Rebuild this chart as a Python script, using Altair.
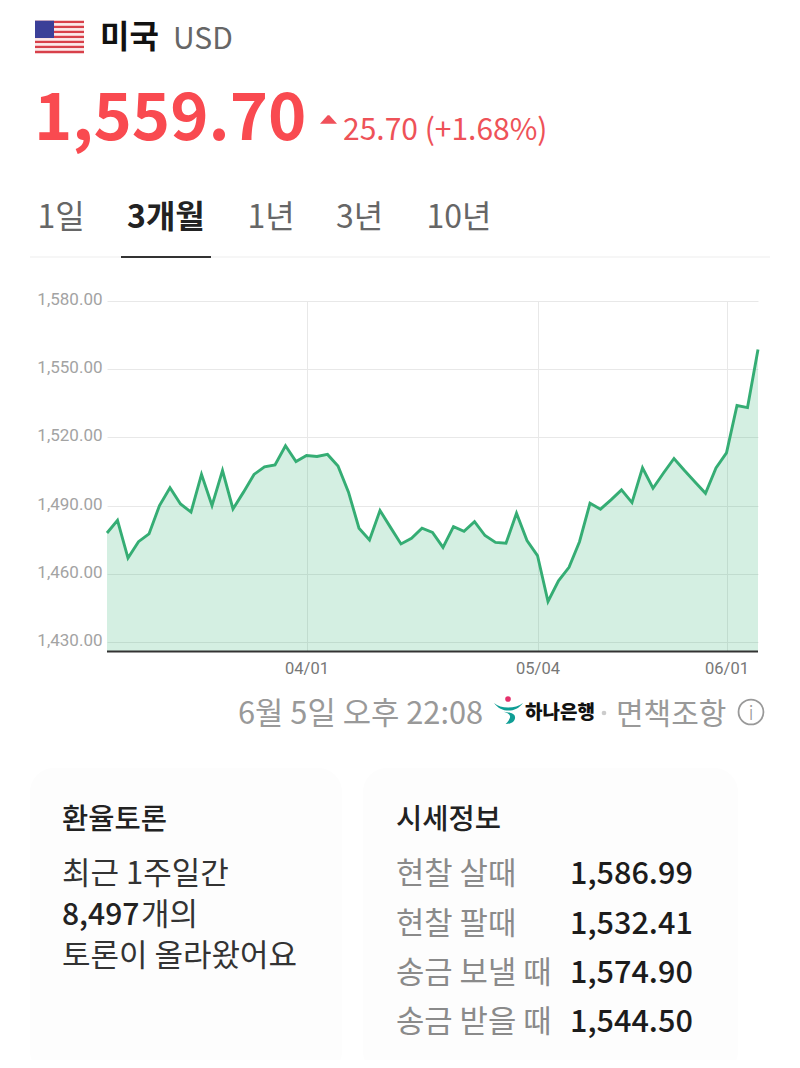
import altair as alt
import pandas as pd

dates = ["03/05","03/06","03/09","03/10","03/11","03/12","03/13","03/16","03/17","03/18","03/19","03/20","03/23","03/24","03/25","03/26","03/27","03/30","03/31",
         "04/01","04/02","04/03","04/06","04/07","04/08","04/09","04/10","04/13","04/14","04/15","04/16","04/17","04/20","04/21","04/22","04/23","04/24","04/27","04/28","04/29","04/30",
         "05/04","05/06","05/07","05/08","05/11","05/12","05/13","05/14","05/15","05/18","05/19","05/20","05/21","05/22","05/26","05/27","05/28","05/29",
         "06/01","06/02","06/04","06/05"]
rates = [1477.9,1483.5,1466.9,1474.1,1477.5,1490.0,1497.8,1490.7,1487.1,1503.7,1490.0,1505.4,1488.5,1495.9,1503.7,1507.0,1507.9,1516.3,1509.4,
         1512.0,1511.6,1512.5,1507.4,1495.9,1480.0,1474.9,1487.8,1480.4,1473.1,1475.6,1480.0,1478.2,1471.6,1480.7,1478.7,1482.9,1476.8,1473.8,1473.4,1486.6,1474.6,
         1468.0,1447.8,1456.9,1462.8,1474.1,1491.0,1488.4,1492.5,1496.9,1491.3,1506.6,1497.6,1504.3,1510.7,1505.4,1500.4,1495.4,1506.5,
         1513.2,1534.0,1533.1,1558.7]
y_ticks = [1430,1460,1490,1520,1550,1580]
x_ticks = ["04/01","05/04","06/01"]
y_floor = 1426
tabs = [("1일",37.5,False),("3개월",127,True),("1년",247.5,False),("3년",336,False),("10년",426.5,False)]
quotes = [("현찰 살때","1,586.99",873),("현찰 팔때","1,532.41",923),("송금 보낼 때","1,574.90",972),("송금 받을 때","1,544.50",1021)]
talk = [("최근 1주일간",873,"#333333",400),("8,497",914,"#222222",500),("토론이 올라왔어요",955,"#333333",400)]

PW, PH = 651, 350
OX, OY = 107, 301
KR = "Noto Sans CJK KR"
one = pd.DataFrame({"a":[0]})
df = pd.DataFrame({"date":dates,"rate":rates})
df["floor"] = y_floor

def T(text,x,y,size,color,weight=400,align="left",font=KR,baseline="alphabetic"):
    return alt.Chart(one).mark_text(text=text,fontSize=size,color=color,fontWeight=weight,align=align,
                                    baseline=baseline,font=font).encode(x=alt.value(x-OX),y=alt.value(y-OY))

def R(x,x2,y,y2,color,radius=0):
    kw = {"cornerRadius":radius} if radius else {}
    return alt.Chart(one).mark_rect(color=color,**kw).encode(x=alt.value(x-OX),x2=alt.value(x2-OX),
                                                             y=alt.value(y-OY),y2=alt.value(y2-OY))

def P(shape,x,y,size,color,filled=True,**kw):
    return alt.Chart(one).mark_point(shape=shape,filled=filled,color=color,size=size,opacity=1,**kw).encode(
        x=alt.value(x-OX),y=alt.value(y-OY))

xs = alt.Scale(domain=dates,type="point",padding=0)
ys = alt.Scale(domain=[y_floor,1580],nice=False,zero=False,clamp=True)

xax = alt.X("date:O",scale=xs,sort=None,title=None,
            axis=alt.Axis(values=x_ticks,grid=True,gridColor="#e8e8e8",gridWidth=1,domain=False,ticks=False,
                          labelAngle=0,labelFont="Roboto",labelFontSize=16.5,labelColor="#777777",labelPadding=9.5))
yax = alt.Y("rate:Q",scale=ys,title=None,
            axis=alt.Axis(values=y_ticks,format=",.2f",grid=True,gridColor="#e8e8e8",gridWidth=1,domain=False,ticks=False,
                          labelFont="Roboto",labelFontSize=17,labelColor="#a3a3a3",labelPadding=5,labelOffset=-1.5))

area = alt.Chart(df).mark_area(color="#2aad6e",opacity=0.2).encode(x=xax,y=yax,y2=alt.Y2("floor:Q"))
line = alt.Chart(df).mark_line(color="#35ad74",strokeWidth=2.9,strokeJoin="miter").encode(
    x=alt.X("date:O",scale=xs,sort=None),y=alt.Y("rate:Q",scale=ys))
base = R(107,758,650.5,652.5,"#333333")

layers = [area,line,base]

# flag
for i in range(13):
    top = 20.7+i*32.5/13
    layers.append(R(35,84,top,top+32.5/13,"#d8404a" if i%2==0 else "#fbeaea"))
layers.append(R(35,54,20.7,38,"#3b3f98"))

layers += [T("미국",100,48,32,"#111111",700),T("USD",173,49,30,"#666666"),
           T("1,559.70",34,140,65,"#f94a50",700),T("25.70 (+1.68%)",343,140,30,"#ee5258")]
layers.append(P("M-1 0.5L-0.1 -0.5L0.1 -0.5L1 0.5Z",328.5,119.5,289,"#f0505a"))

for label,x,active in tabs:
    layers.append(T(label,x,228,32,"#222222" if active else "#666666",700 if active else 400))
layers += [R(30,770,256.5,257.5,"#eeeeee"),R(121,211,256,258,"#333333")]

layers.append(T("6월 5일 오후 22:08",238,724,30.8,"#999999"))
layers.append(P("M-1 -0.35C-0.5 0.1 0.5 0.05 1 -0.35C0.5 0.35 -0.5 0.35 -1 -0.35Z"
                "M-0.35 0.25C0.05 0.3 0.5 0.35 0.45 0.7C0.4 1 0.1 1.1 -0.2 1.1C0 0.9 0.15 0.7 0.1 0.55C0.05 0.35 -0.2 0.3 -0.35 0.25Z",
                508.5,708,841,"#0f9e95"))
layers.append(P("circle",508,699,32,"#e5306b"))
layers.append(T("하나은행",525,719,19,"#111111",900))
layers.append(P("circle",604,713,22,"#cccccc"))
layers.append(T("면책조항",616,724,30,"#999999"))
layers.append(P("circle",751,712,620,"#999999",filled=False,strokeWidth=1.8))
layers.append(T("i",751,720,20,"#999999",300,"center"))

layers += [R(30,342,768,1075,"#fdfdfd",24),R(363,738,768,1075,"#fdfdfd",24)]
layers += [T("환율토론",62,829,28.5,"#222222",500),T("시세정보",396,829,28.5,"#222222",500)]
for text,y,color,w in talk:
    layers.append(T(text,62,y+11,31 if w==400 else 30,color,w))
layers.append(T("개의",141,925,31,"#333333"))
for label,val,y in quotes:
    layers.append(T(label,396,y+11,30.8,"#8a8a8a"))
    layers.append(T(val,570,y+11,30.6,"#1c1c1c",500))

chart = alt.layer(*layers).properties(
    width=PW,height=PH,
    padding={"left":99,"top":293,"right":34,"bottom":409},
    autosize=alt.AutoSizeParams(type="none"),
    background="#ffffff",
).configure_view(stroke=None)

chart.save("out.html",embed_options={"renderer":"svg","actions":False})
